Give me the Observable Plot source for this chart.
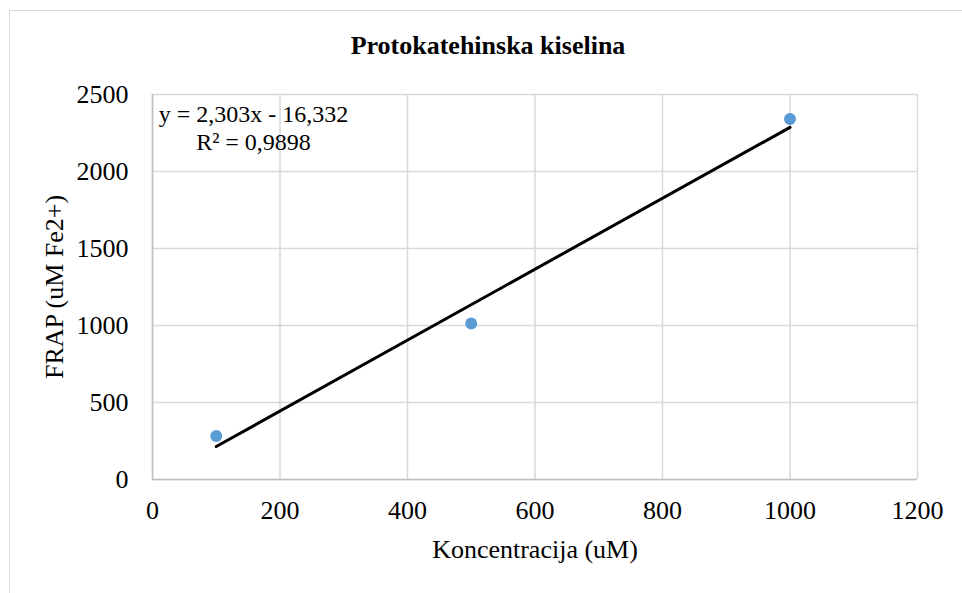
<!DOCTYPE html>
<html>
<head>
<meta charset="utf-8">
<script src="https://cdn.jsdelivr.net/npm/d3@7"></script>
<script src="https://cdn.jsdelivr.net/npm/@observablehq/plot@0.6"></script>
<style>
  html, body { margin: 0; padding: 0; background: white; overflow: hidden; width: 962px; height: 593px; }
  #wrap { position: relative; width: 962px; height: 593px; }
  #frame { position: absolute; left: 9px; top: 10px; width: 1100px; height: 700px;
           border-top: 1.5px solid #d9d9d9; border-left: 1.5px solid #d9d9d9; box-sizing: border-box; }
  #title { position: absolute; left: 0; top: 31px; width: 976px; text-align: center;
           font-family: "Liberation Serif", "Times New Roman", serif; font-weight: bold;
           font-size: 26px; line-height: 30px; color: #000; }
  #chart { position: absolute; left: 0; top: 70px; }
</style>
</head>
<body>
<div id="wrap">
  <div id="frame"></div>
  <div id="title">Protokatehinska kiselina</div>
  <div id="chart"></div>
</div>
<script>
// Data
const concentrations = [100, 500, 1000];          // Koncentracija (uM)
const frapValues = [282, 1013, 2341];             // FRAP (uM Fe2+)
const xTicks = [0, 200, 400, 600, 800, 1000, 1200];
const yTicks = [0, 500, 1000, 1500, 2000, 2500];
const equationLabels = ["y = 2,303x - 16,332", "R² = 0,9898"];

const data = concentrations.map((c, i) => ({x: c, y: frapValues[i]}));

const plot = Plot.plot({
  width: 962,
  height: 523,
  marginLeft: 152,
  marginRight: 45,
  marginTop: 24,
  marginBottom: 114,
  style: {
    fontFamily: '"Liberation Serif", "Times New Roman", serif',
    fontSize: "26px",
    color: "#000",
    background: "transparent"
  },
  x: {domain: [0, 1200]},
  y: {domain: [0, 2500]},
  marks: [
    Plot.gridX(xTicks, {stroke: "#d9d9d9", strokeOpacity: 1, strokeWidth: 1.5}),
    Plot.gridY(yTicks, {stroke: "#d9d9d9", strokeOpacity: 1, strokeWidth: 1.5}),
    Plot.ruleY([0], {stroke: "#bfbfbf", strokeWidth: 1.5}),
    Plot.ruleX([0], {stroke: "#bfbfbf", strokeWidth: 1.5}),
    Plot.axisX({ticks: xTicks, tickSize: 0, tickPadding: 21, tickFormat: d3.format("d"),
      label: "Koncentracija (uM)", labelAnchor: "center", labelArrow: "none", labelOffset: 78}),
    Plot.axisY({ticks: yTicks, tickSize: 0, tickPadding: 24, tickFormat: d3.format("d"),
      label: "FRAP (uM Fe2+)", labelAnchor: "center", labelArrow: "none", labelOffset: 108}),
    Plot.dot(data, {x: "x", y: "y", r: 6, fill: "#5b9bd5", stroke: "none"}),
    Plot.linearRegressionY(data, {x: "x", y: "y", stroke: "#000", strokeWidth: 3, ci: 0}),
    Plot.text([equationLabels.join("\n")], {
      frameAnchor: "top-left", dx: 101, dy: 8, textAnchor: "middle", lineAnchor: "top",
      lineHeight: 1.167, fontSize: 24, fill: "#000"
    })
  ]
});
document.getElementById("chart").appendChild(plot);
</script>
</body>
</html>
